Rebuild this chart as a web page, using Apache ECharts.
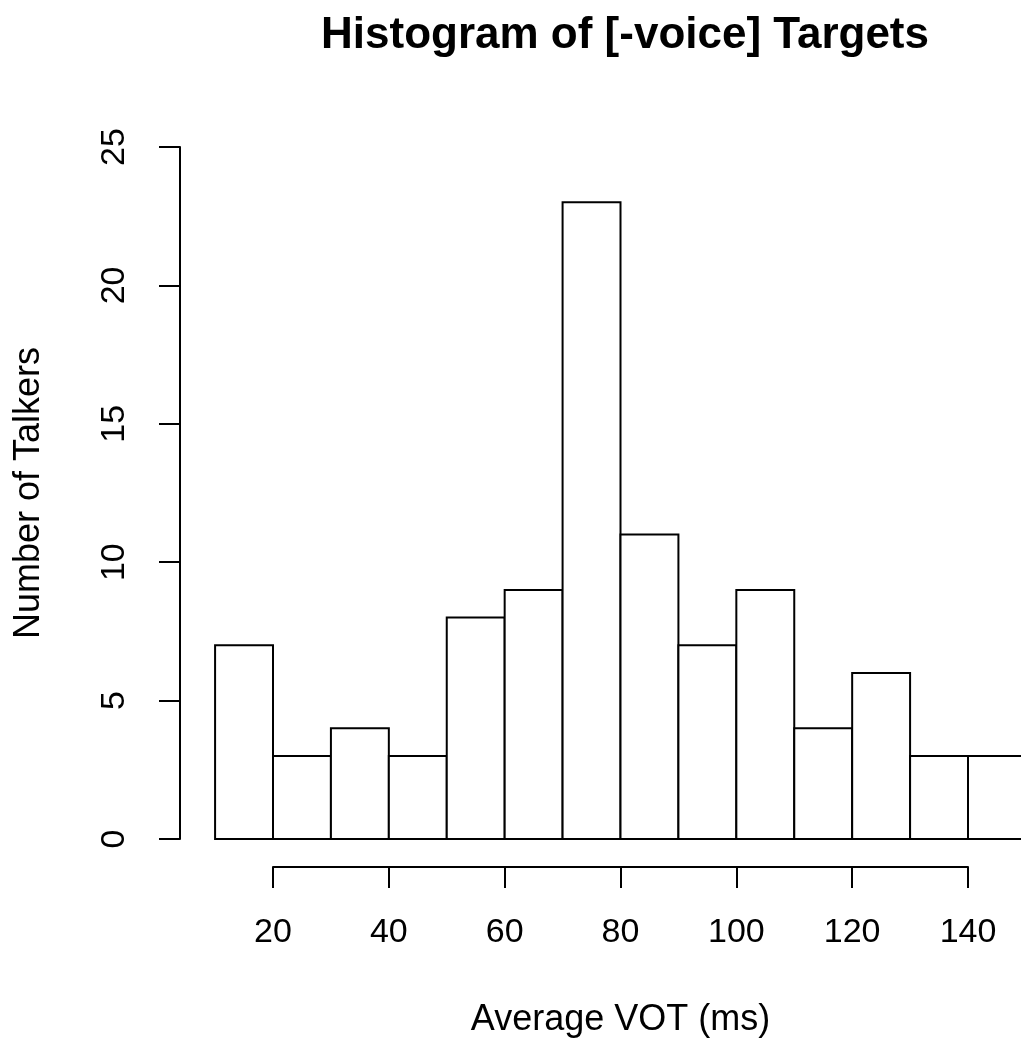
<!DOCTYPE html>
<html>
<head>
<meta charset="utf-8">
<script src="https://cdn.jsdelivr.net/npm/echarts@6/dist/echarts.min.js"></script>
<style>html,body{margin:0;padding:0;background:#fff;}#c{width:1021px;height:1044px;}</style>
</head>
<body>
<div id="c"></div>
<script>
var binStarts = [10, 20, 30, 40, 50, 60, 70, 80, 90, 100, 110, 120, 130, 140];
var binWidth = 10;
var counts = [7, 3, 4, 3, 8, 9, 23, 11, 7, 9, 4, 6, 3, 3];
var xTicks = [20, 40, 60, 80, 100, 120, 140];
var yTicks = [0, 5, 10, 15, 20, 25];

var data = binStarts.map(function (s, i) { return [s, s + binWidth, counts[i]]; });
var FONT = '"Liberation Sans", Arial, sans-serif';

var chart = echarts.init(document.getElementById('c'), null, { renderer: 'canvas' });
chart.setOption({
  animation: false,
  backgroundColor: '#ffffff',
  title: {
    text: 'Histogram of [-voice] Targets',
    left: 620,
    top: 9,
    textAlign: 'center',
    textStyle: { fontFamily: FONT, fontWeight: 'bold', fontSize: 44, color: '#000' }
  },
  grid: { left: 273, right: 53, top: 147, bottom: 205, containLabel: false },
  xAxis: {
    type: 'value',
    min: xTicks[0], max: xTicks[xTicks.length - 1], interval: 20,
    offset: 28,
    name: 'Average VOT (ms)',
    nameLocation: 'middle',
    nameGap: 135,
    nameTextStyle: { fontFamily: FONT, fontSize: 36, color: '#000' },
    axisLine: { show: true, onZero: false, lineStyle: { color: '#000', width: 2 } },
    axisTick: { show: true, inside: false, length: 21, lineStyle: { color: '#000', width: 2 } },
    axisLabel: { show: true, margin: 49, fontFamily: FONT, fontSize: 34, color: '#000' },
    splitLine: { show: false }
  },
  yAxis: {
    type: 'value',
    min: yTicks[0], max: yTicks[yTicks.length - 1], interval: 5,
    offset: 93,
    name: 'Number of Talkers',
    nameLocation: 'middle',
    nameGap: 133,
    nameTextStyle: { fontFamily: FONT, fontSize: 36, color: '#000' },
    axisLine: { show: true, onZero: false, lineStyle: { color: '#000', width: 2 } },
    axisTick: { show: true, inside: false, length: 21, lineStyle: { color: '#000', width: 2 } },
    axisLabel: { show: true, rotate: 90, margin: 48, fontFamily: FONT, fontSize: 34, color: '#000' },
    splitLine: { show: false }
  },
  series: [{
    type: 'custom',
    clip: false,
    data: data,
    encode: { x: [0, 1], y: 2 },
    renderItem: function (params, api) {
      var p0 = api.coord([api.value(0), api.value(2)]);
      var p1 = api.coord([api.value(1), 0]);
      return {
        type: 'rect',
        shape: { x: p0[0], y: p0[1], width: p1[0] - p0[0], height: p1[1] - p0[1] },
        style: { fill: '#ffffff', stroke: '#000000', lineWidth: 2 }
      };
    }
  }]
});
</script>
</body>
</html>
